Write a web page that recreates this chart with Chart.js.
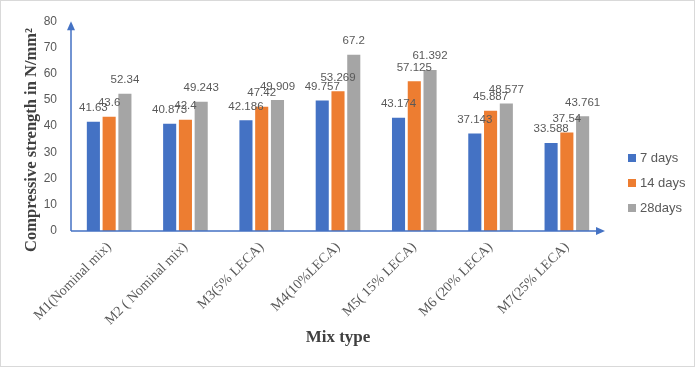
<!DOCTYPE html>
<html>
<head>
<meta charset="utf-8">
<script src="https://cdn.jsdelivr.net/npm/chart.js@4/dist/chart.umd.min.js"></script>
<style>
html,body{margin:0;padding:0;background:#fff;}
#wrap{width:696px;height:368px;position:relative;}
</style>
</head>
<body>
<div id="wrap"><canvas id="c" width="696" height="368"></canvas></div>
<script>
const categories = ["M1(Nominal mix)", "M2 ( Nominal mix)", "M3(5% LECA)", "M4(10%LECA)", "M5( 15% LECA)", "M6 (20% LECA)", "M7(25% LECA)"];
const days7 = [41.63, 40.873, 42.186, 49.757, 43.174, 37.143, 33.588];
const days14 = [43.6, 42.4, 47.42, 53.269, 57.125, 45.887, 37.54];
const days28 = [52.34, 49.243, 49.909, 67.2, 61.392, 48.577, 43.761];
const seriesNames = ["7 days", "14 days", "28days"];
const yTicks = [0, 10, 20, 30, 40, 50, 60, 70, 80];
const yTitle = "Compressive strength in N/mm\u00B2";
const xTitle = "Mix type";

const colors = ["#4472C4", "#ED7D31", "#A5A5A5"];
const axisColor = "#4472C4";
const textGray = "#595959";

const extras = {
  id: "extras",
  afterDatasetsDraw(chart) {
    const ctx = chart.ctx;
    ctx.save();
    ctx.font = "11.5px 'Liberation Sans', Arial, sans-serif";
    ctx.fillStyle = textGray;
    ctx.textAlign = "center";
    ctx.textBaseline = "bottom";
    chart.data.datasets.forEach((ds, i) => {
      const meta = chart.getDatasetMeta(i);
      meta.data.forEach((bar, j) => {
        ctx.fillText(String(ds.data[j]), bar.x, bar.y - 8);
      });
    });
    ctx.restore();
  },
  afterDraw(chart) {
    const ctx = chart.ctx;
    const a = chart.chartArea;
    ctx.save();
    // outer border
    ctx.strokeStyle = "#d9d9d9";
    ctx.lineWidth = 1;
    ctx.strokeRect(0.5, 0.5, 694, 366);
    // axes
    ctx.strokeStyle = axisColor;
    ctx.fillStyle = axisColor;
    ctx.lineWidth = 1.5;
    ctx.beginPath();
    ctx.moveTo(a.left, a.bottom);
    ctx.lineTo(a.left, a.top + 6);
    ctx.moveTo(a.left, a.bottom);
    ctx.lineTo(a.right - 6, a.bottom);
    ctx.stroke();
    ctx.beginPath();
    ctx.moveTo(a.left, a.top);
    ctx.lineTo(a.left - 4, a.top + 9);
    ctx.lineTo(a.left + 4, a.top + 9);
    ctx.closePath();
    ctx.fill();
    ctx.beginPath();
    ctx.moveTo(a.right, a.bottom);
    ctx.lineTo(a.right - 9, a.bottom - 4);
    ctx.lineTo(a.right - 9, a.bottom + 4);
    ctx.closePath();
    ctx.fill();
    // titles
    ctx.fillStyle = "#404040";
    ctx.font = "bold 17px 'Liberation Serif', 'Times New Roman', serif";
    ctx.textAlign = "center";
    ctx.textBaseline = "middle";
    ctx.fillText(xTitle, (a.left + a.right) / 2, 338);
    ctx.save();
    ctx.translate(32, 140);
    ctx.rotate(-Math.PI / 2);
    ctx.font = "bold 16.5px 'Liberation Serif', 'Times New Roman', serif";
    ctx.fillText(yTitle, 0, 0);
    ctx.restore();
    // legend
    ctx.font = "13px 'Liberation Sans', Arial, sans-serif";
    ctx.textAlign = "left";
    ctx.textBaseline = "middle";
    seriesNames.forEach((n, i) => {
      const y = 158 + i * 25;
      ctx.fillStyle = colors[i];
      ctx.fillRect(628, y - 4, 8, 8);
      ctx.fillStyle = textGray;
      ctx.fillText(n, 640, y);
    });
    ctx.restore();
  }
};

new Chart(document.getElementById("c"), {
  type: "bar",
  data: {
    labels: categories,
    datasets: [
      { label: seriesNames[0], data: days7, backgroundColor: colors[0] },
      { label: seriesNames[1], data: days14, backgroundColor: colors[1] },
      { label: seriesNames[2], data: days28, backgroundColor: colors[2] }
    ]
  },
  options: {
    responsive: false,
    devicePixelRatio: 1,
    animation: false,
    categoryPercentage: 0.62,
    barPercentage: 0.83,
    layout: { padding: { left: 0, top: 17, right: 91, bottom: 0 } },
    plugins: { legend: { display: false }, tooltip: { enabled: false } },
    scales: {
      x: {
        grid: { display: false, drawTicks: false },
        border: { display: false },
        ticks: {
          autoSkip: false,
          minRotation: 45,
          maxRotation: 45,
          padding: 8,
          color: textGray,
          font: { family: "'Liberation Serif', 'Times New Roman', serif", size: 14 }
        },
        afterFit(s) { s.height = 137; }
      },
      y: {
        min: 0,
        max: 80,
        grid: { display: false, drawTicks: false },
        border: { display: false },
        afterBuildTicks(s) { s.ticks = yTicks.map(v => ({ value: v })); },
        ticks: {
          padding: 14,
          color: textGray,
          font: { family: "'Liberation Sans', Arial, sans-serif", size: 12 }
        },
        afterFit(s) { s.width = 71; }
      }
    }
  },
  plugins: [extras]
});
</script>
</body>
</html>
